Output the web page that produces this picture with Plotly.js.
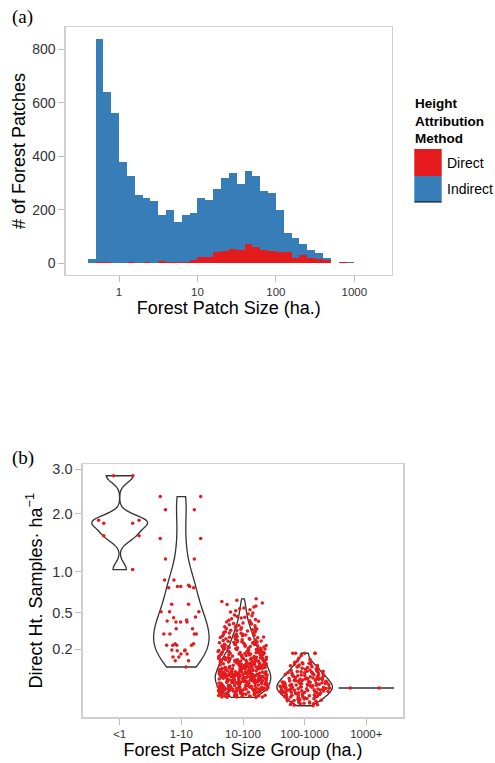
<!DOCTYPE html>
<html><head><meta charset="utf-8">
<script src="https://cdn.plot.ly/plotly-3.0.1.min.js"></script>
<style>html,body{margin:0;padding:0;background:#fff}</style>
</head><body><div id="chart" style="width:495px;height:763px"></div>
<script>
// ---------- Panel (a): histogram, bins of 0.1 in log10(ha) ----------
const binStartLog10 = [-0.4,-0.3,-0.2,-0.1,0.0,0.1,0.2,0.3,0.4,0.5,0.6,0.7,0.8,0.9,1.0,1.1,1.2,1.3,1.4,1.5,1.6,1.7,1.8,1.9,2.0,2.1,2.2,2.3,2.4,2.5,2.6,2.7,2.8,2.9];
const directCounts   = [0,4,4,0,0,4,0,4,0,7,3,3,3,12,23,23,41,47,53,51,71,59,51,45,41,41,21,31,21,15,11,0,3,0];
const indirectCounts = [15,836,636,562,379,321,255,241,233,173,196,150,177,175,220,214,237,271,285,244,274,266,218,218,158,72,72,40,30,22,10,0,0,3];
const sizeTickLog10 = [0,1,2,3];
const sizeTickText  = ['1','10','100','1000'];
const countTicks = [0,200,400,600,800];

// ---------- Panel (b): direct height samples per ha, by patch size group ----------
const groups = ['<1','1-10','10-100','100-1000','1000+'];
const samplesLt1 = [2.84,2.84,1.81,1.87,1.81,1.87,1.58,1.58,1.03];
const samples1to10 = [2.36,2.36,2.08,2.08,1.53,1.53,1.19,1.19,0.885,0.885,0.785,0.80,0.80,0.80,0.785,0.815,0.588,0.588,0.45,0.43,0.457,0.51,0.51,0.51,0.42,0.41,0.41,0.41,0.35,0.35,0.308,0.308,0.308,0.308,0.236,0.236,0.225,0.226,0.225,0.225,0.194,0.194,0.19,0.19,0.17,0.152,0.152,0.17,0.1325,0.1325,0.102];
const samples10to100 = [
0.0106,0.0107,0.0109,0.0111,0.0112,0.0115,0.0118,0.0119,0.0121,0.0125,0.0126,0.0128,0.0131,0.0133,0.0137,0.0139,0.0141,0.0144,0.0148,0.0149,0.0152,0.0156,0.0157,0.0161,0.0163,0.0167,0.0169,0.0172,0.0176,0.0178,0.0181,0.0185,0.0188,0.0191,0.0193,0.0197,0.0199,0.0203,0.0206,0.0209,0.0212,0.0215,0.0218,0.0221,0.0224,
0.0226,0.0228,0.0231,0.0233,0.0235,0.0238,0.024,0.0242,0.0245,0.0247,0.025,0.0252,0.0254,0.0257,0.0259,0.0262,0.0264,0.0266,0.0269,0.0271,0.0274,0.0276,0.0279,0.0281,0.0284,0.0286,0.0289,0.0292,0.0294,0.0297,0.03,0.0302,0.0305,0.0308,0.031,0.0313,0.0316,0.0319,0.0322,0.0325,0.0328,0.0331,0.0334,0.0337,0.034,0.0343,0.0347,0.035,0.0354,0.0358,0.0362,0.0367,0.0372,0.0378,0.0385,0.0393,
0.0401,0.0404,0.0407,0.041,0.0413,0.0416,0.0419,0.0422,0.0425,0.0428,0.0431,0.0434,0.0437,0.044,0.0443,0.0446,0.045,0.0453,0.0456,0.046,0.0463,0.0467,0.047,0.0474,0.0477,0.0481,0.0484,0.0488,0.0492,0.0495,0.0499,0.0503,0.0507,0.0511,0.0515,0.0519,0.0523,0.0527,0.0531,0.0535,0.054,0.0544,0.0548,0.0552,0.0557,0.0561,0.0565,0.057,0.0574,0.0578,0.0582,0.0586,0.059,0.0594,0.0597,0.06,0.0603,0.0606,0.0609,0.0612,0.0615,0.0618,0.0621,0.0624,
0.0627,0.063,0.0633,0.0636,0.064,0.0644,0.0647,0.065,0.0655,0.0658,0.0662,0.0665,0.0669,0.0673,0.0676,0.068,0.0684,0.0688,0.0692,0.0696,0.07,0.0704,0.0708,0.0712,0.0716,0.072,0.0725,0.0729,0.0733,0.0737,0.0742,0.0746,0.075,0.0755,0.0759,0.0764,0.0768,0.0773,0.0777,0.0782,0.0786,0.0791,0.0796,0.08,0.0805,0.081,0.0815,0.082,0.0825,0.083,0.0835,0.084,0.0845,0.085,0.0856,0.0861,0.0867,0.0873,0.0881,0.0892,
0.0905,0.0911,0.0913,0.0922,0.0926,0.0934,0.0938,0.0945,0.0949,0.0957,0.0961,0.0966,0.0975,0.0979,0.0984,0.0993,0.0998,0.1002,0.1009,0.1015,0.1018,0.1027,0.1033,0.1036,0.1044,0.1049,0.1056,0.1061,0.1068,0.1072,0.1081,0.1087,0.1092,0.1099,0.1103,0.1112,0.1117,0.1121,0.1129,0.1134,0.1142,0.1146,0.1151,0.1158,0.1163,0.1169,0.1177,0.1182,0.1188,0.1194,0.1201,0.1207,0.1213,0.1222,
0.1229,0.1237,0.1242,0.1251,0.1258,0.1263,0.1272,0.1279,0.1284,0.1293,0.1299,0.1306,0.1314,0.1321,0.1327,0.1336,0.1342,0.1349,0.1357,0.1364,0.1371,0.1378,0.1386,0.1393,0.1401,0.1408,0.1416,0.1423,0.1431,0.1439,0.1446,0.1454,0.1462,0.1469,0.1478,0.1486,0.1494,0.1502,0.1511,0.1519,0.1527,0.1536,0.1548,0.1561,0.1574,0.1589,
0.1606,0.1617,0.1626,0.1638,0.1647,0.1659,0.1668,0.168,0.1691,0.1702,0.1713,0.1725,0.1736,0.1747,0.1759,0.177,0.1782,0.1794,0.1806,0.1818,0.183,0.1842,0.1854,0.1867,0.1879,0.1891,0.1904,0.1917,0.1929,0.1942,0.1955,0.1968,0.1981,0.1994,0.2003,0.2012,0.2021,
0.2031,0.2048,0.2064,0.2079,0.2096,0.2112,0.2129,0.2146,0.2163,0.218,0.2197,0.2214,0.2231,0.2249,0.2266,0.2284,0.2302,0.2319,0.2337,0.2355,0.2373,0.2391,0.2409,0.2427,0.2445,0.2462,0.2476,0.2488,0.2497,
0.2512,0.2534,0.2556,0.2578,0.2601,0.2623,0.2646,0.2669,0.2692,0.2715,0.2738,0.2761,0.2785,0.2808,0.2832,0.2856,0.288,0.2904,0.2928,0.2952,0.2976,0.2993,0.3005,0.3018,
0.3041,0.3072,0.3103,0.3135,0.3167,0.3198,0.323,0.3262,0.3295,0.3327,0.336,0.3392,0.3425,0.3458,0.3491,0.3524,0.3558,0.3589,
0.3628,0.3675,0.3722,0.377,0.3818,0.3867,0.3916,0.3965,0.4015,0.4065,0.4115,0.4166,0.4212,
0.4268,0.4339,0.4412,0.4485,0.4558,0.4632,0.4707,0.4782,0.4857,
0.4962,0.5074,0.5187,0.5301,0.5417,0.5498,0.5603,
0.5712,0.5866,0.6023,0.6181,0.6342,0.6505];
const samples100to1000 = [
0.0018,0.0021,0.0024,0.0027,0.003,0.0033,0.0036,0.0039,0.0042,0.0045,0.0049,0.0052,0.0056,0.006,0.0064,0.0068,0.0072,0.0076,0.008,
0.0083,0.0086,0.0089,0.0092,0.0095,0.0098,0.0102,0.0105,0.0109,0.0112,0.0116,0.0119,0.0123,0.0127,0.0131,0.0135,0.0139,0.0143,0.0147,0.0151,0.0155,0.0159,0.0164,0.0168,0.0172,0.0176,0.018,0.0184,0.0187,0.019,0.0193,0.0195,
0.0198,0.0202,0.0206,0.021,0.0214,0.0218,0.0222,0.0226,0.023,0.0234,0.0238,0.0242,0.0246,0.025,0.0254,0.0258,0.0262,0.0266,0.027,0.0275,0.0279,0.0283,0.0287,0.0292,0.0296,0.03,0.0305,0.0309,0.0314,0.0318,0.0323,0.0327,0.0332,0.0336,0.0341,0.0345,0.0349,0.0352,0.0355,0.0357,0.0359,
0.0364,0.037,0.0375,0.0381,0.0386,0.0392,0.0397,0.0403,0.0409,0.0415,0.0421,0.0427,0.0433,0.0439,0.0445,0.0451,0.0457,0.0463,0.047,0.0476,0.0482,0.0489,0.0495,0.0502,0.0508,0.0515,0.0521,0.0528,0.0534,0.0541,0.0548,0.0554,0.056,0.0565,0.057,0.0574,
0.0583,0.0592,0.0601,0.0611,0.062,0.063,0.064,0.0649,0.0659,0.0669,0.0679,0.0689,0.0699,0.071,0.072,0.073,0.0741,0.0751,0.0762,0.0773,0.0783,0.0794,0.0805,0.0814,0.0823,0.0831,0.0838,
0.0852,0.0869,0.0887,0.0905,0.0923,0.0941,0.0959,0.0978,0.0997,0.1016,0.1035,0.1054,0.1074,0.1093,0.1113,0.1131,0.1149,
0.1172,0.1195,0.1219,0.1243,0.1275,0.1318,0.1385,0.1452,
0.1612,0.1738,0.174,0.1741,0.1743,0.1744];
const samples1000plus = [0.0284,0.0288];
const sampleTickVals = [0.2,0.5,1,2,3];
const sampleTickText = ['0.2','0.5','1.0','2.0','3.0'];

// ---------- styling ----------
const RED = '#E41A1C', BLUE = '#377EB8';
const W = 495, H = 763;
const px = x => x / W, py = y => 1 - y / H;
const SANS = 'Liberation Sans, Arial, sans-serif';
// sqrt-scale bands used only so that the library's point jitter stays even in sparse parts
const jitterBandEdges = [0.5, 0.75, 1.0, 1.3];

function bwNrd0(a) {
  const n = a.length;
  const m = a.reduce((p, c) => p + c, 0) / n;
  const sd = Math.sqrt(a.reduce((p, c) => p + (c - m) * (c - m), 0) / (n - 1));
  const s = [...a].sort((u, v) => u - v);
  const q = p => { const h = (n - 1) * p, lo = Math.floor(h); return s[lo] + (h - lo) * (s[Math.min(lo + 1, n - 1)] - s[lo]); };
  let lo = Math.min(sd, (q(0.75) - q(0.25)) / 1.34);
  if (!(lo > 0)) lo = sd || 1;
  return 0.9 * lo * Math.pow(n, -0.2);
}

const binCenters = binStartLog10.map(b => b + 0.05);
const traces = [
  {type:'bar', x: binCenters, y: directCounts, width: 0.1, name:'Direct',
   marker:{color: RED, line:{width:0}}, xaxis:'x', yaxis:'y', showlegend:false, hoverinfo:'y'},
  {type:'bar', x: binCenters, y: indirectCounts, width: 0.1, name:'Indirect',
   marker:{color: BLUE, line:{width:0}}, xaxis:'x', yaxis:'y', showlegend:false, hoverinfo:'y'}
];

const groupData = [samplesLt1, samples1to10, samples10to100, samples100to1000, samples1000plus];
groups.forEach((g, i) => {
  const s = groupData[i].map(Math.sqrt);
  // violin outline
  traces.push({
    type:'violin', name: g, x: s.map(() => g), y: s, xaxis:'x2', yaxis:'y2',
    width: 0.9, scalemode:'width', spanmode:'hard', bandwidth: bwNrd0(s),
    points:false, line:{color:'#333333', width:1.3}, fillcolor:'rgba(0,0,0,0)',
    box:{visible:false}, meanline:{visible:false}, showlegend:false, hoverinfo:'skip'
  });
  // jittered points
  const bounds = [-Infinity, ...jitterBandEdges, Infinity];
  for (let b = 0; b < bounds.length - 1; b++) {
    const part = s.filter(v => v >= bounds[b] && v < bounds[b + 1]);
    if (!part.length) continue;
    traces.push({
      type:'box', name: g, x: part.map(() => g), y: part, xaxis:'x2', yaxis:'y2',
      width: 0.9, boxpoints:'all', jitter: 0.9, pointpos: 0, whiskerwidth: 0,
      line:{width:0, color:'rgba(0,0,0,0)'}, fillcolor:'rgba(0,0,0,0)',
      marker:{color: RED, size: 3.5, line:{width:0}},
      showlegend:false, hoverinfo:'y'
    });
  }
});

const axisCommon = {
  showline:true, mirror:true, linecolor:'#cfcfcf', linewidth:1.3,
  ticks:'outside', ticklen:6, tickcolor:'#bdbdbd', tickwidth:1,
  showgrid:false, zeroline:false,
  tickfont:{family: SANS, size:11.5, color:'#333333'}
};
const titleFont = {family: SANS, size:18, color:'#000000'};

const layout = {
  width: W, height: H, margin:{l:0, r:0, t:0, b:0},
  paper_bgcolor:'#ffffff', plot_bgcolor:'#ffffff',
  barmode:'stack', bargap:0, violinmode:'overlay', boxmode:'overlay',
  font:{family: SANS},
  xaxis: Object.assign({}, axisCommon, {
    domain:[px(65.7), px(392)], anchor:'y', range:[-0.68, 3.48],
    tickmode:'array', tickvals: sizeTickLog10, ticktext: sizeTickText,
    title:{text:'Forest Patch Size (ha.)', font: titleFont, standoff: 3}
  }),
  yaxis: Object.assign({}, axisCommon, {
    domain:[py(275), py(27)], anchor:'x', range:[-44, 884],
    tickmode:'array', tickvals: countTicks, tickfont:{family: SANS, size:14, color:'#333333'},
    title:{text:'# of Forest Patches', font: titleFont, standoff: 2}
  }),
  xaxis2: Object.assign({}, axisCommon, {
    domain:[px(82.7), px(403.3)], anchor:'y2', type:'category',
    categoryorder:'array', categoryarray: groups, range:[-0.6, 4.6],
    title:{text:'Forest Patch Size Group (ha.)', font: titleFont, standoff: 3}
  }),
  yaxis2: Object.assign({}, axisCommon, {
    domain:[py(717.3), py(464.3)], anchor:'x2', range:[-0.04, 1.767],
    tickmode:'array', tickvals: sampleTickVals.map(Math.sqrt), ticktext: sampleTickText,
    tickfont:{family: SANS, size:14.5, color:'#333333'},
    title:{text:'Direct Ht. Samples· ha<sup>−1</sup>', font: titleFont, standoff: 5}
  }),
  shapes: [
    {type:'rect', xref:'paper', yref:'paper', x0:px(414.3), x1:px(441.7), y0:py(176), y1:py(149), fillcolor: RED, line:{width:0}},
    {type:'rect', xref:'paper', yref:'paper', x0:px(414.3), x1:px(441.7), y0:py(202), y1:py(176), fillcolor: BLUE, line:{width:0}},
    {type:'line', xref:'paper', yref:'paper', x0:px(414.3), x1:px(441.7), y0:py(202), y1:py(202), line:{color:'#000', width:1}}
  ],
  annotations: [
    {xref:'paper', yref:'paper', x:px(22.5), y:py(16.7), text:'(a)', showarrow:false, xanchor:'center', yanchor:'middle',
     font:{family:'Liberation Serif, Times New Roman, serif', size:19, color:'#000'}},
    {xref:'paper', yref:'paper', x:px(22.5), y:py(458.3), text:'(b)', showarrow:false, xanchor:'center', yanchor:'middle',
     font:{family:'Liberation Serif, Times New Roman, serif', size:19, color:'#000'}},
    {xref:'paper', yref:'paper', x:px(413), y:py(94), text:'<b>Height</b><br><b>Attribution</b><br><b>Method</b>',
     showarrow:false, xanchor:'left', yanchor:'top', align:'left',
     font:{family: SANS, size:13.5, color:'#000'}},
    {xref:'paper', yref:'paper', x:px(444.5), y:py(162.8), text:'Direct', showarrow:false, xanchor:'left', yanchor:'middle',
     font:{family: SANS, size:14, color:'#000'}},
    {xref:'paper', yref:'paper', x:px(444.5), y:py(189.5), text:'Indirect', showarrow:false, xanchor:'left', yanchor:'middle',
     font:{family: SANS, size:14, color:'#000'}}
  ]
};

Plotly.newPlot('chart', traces, layout, {displayModeBar:false, staticPlot:true});
</script>
</body></html>
